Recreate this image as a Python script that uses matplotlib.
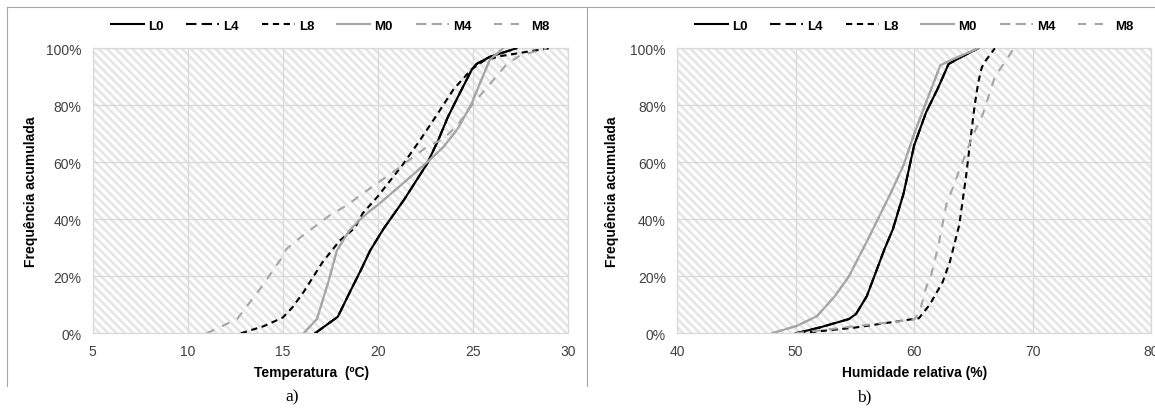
import matplotlib
matplotlib.use("Agg")
import matplotlib.pyplot as plt
from matplotlib.patches import Rectangle
from matplotlib.lines import Line2D
from matplotlib.ticker import FuncFormatter

plt.rcParams['font.family'] = ['Liberation Sans', 'DejaVu Sans']
plt.rcParams['hatch.linewidth'] = 2.0

# ---------------- data: chart a) temperature ----------------
L0_T = [16.7, 17.9, 18.5, 19.1, 19.6, 20.3, 21.4, 22.6, 23.2, 23.7, 24.3, 24.95, 25.2, 25.9, 27.3]
L0_TF = [0, 5.8, 14, 22, 29, 36.6, 47, 59.5, 68, 76, 84, 92.5, 94.5, 97, 100]
L4_T = [16.7, 17.9, 18.5, 19.1, 19.6, 20.3, 21.4, 22.6, 23.2, 23.7, 24.3, 24.95, 25.2, 25.9, 27.3]
L4_TF = [0, 5.8, 14, 22, 29, 36.6, 47, 59.5, 68, 76, 84, 92.5, 94.5, 97, 100]
L8_T = [12.8, 14.0, 15.0, 15.5, 16.1, 17.1, 18.0, 18.8, 19.2, 20.0, 21.3, 22.2, 22.75, 23.2, 24.0, 24.95, 25.6, 26.5, 27.7, 29.0]
L8_TF = [0, 2.5, 5.5, 9, 14.5, 25, 32.5, 37, 42, 48, 59, 67.5, 73, 77.5, 85.7, 92.7, 95.7, 97.3, 98.6, 100]
M0_T = [16.1, 16.8, 17.4, 17.85, 18.5, 19.0, 19.6, 20.0, 21.4, 22.6, 23.45, 24.2, 24.9, 25.4, 25.9, 26.6]
M0_TF = [0, 5, 18, 29, 36, 39.5, 43, 45, 53, 60, 65.3, 71.7, 80, 88, 96, 100]
M4_T = [16.1, 16.8, 17.4, 17.85, 18.5, 19.0, 19.6, 20.0, 21.4, 22.6, 23.45, 24.2, 24.9, 25.4, 25.9, 26.6]
M4_TF = [0, 5, 18, 29, 36, 39.5, 43, 45, 53, 60, 65.3, 71.7, 80, 88, 96, 100]
M8_T = [11.0, 12.6, 13.8, 14.9, 15.2, 16.0, 16.6, 17.5, 18.4, 19.1, 21.0, 22.6, 23.45, 24.2, 24.95, 26.1, 26.8, 27.5, 28.9]
M8_TF = [0, 5, 15.5, 26, 29.6, 34, 37, 41.5, 45, 48.5, 57.5, 65.5, 68.2, 73, 80, 89, 94.5, 97.5, 100]

# ---------------- data: chart b) relative humidity ----------------
L0_H = [50.0, 52.0, 54.5, 55.1, 56.0, 56.6, 57.5, 58.2, 59.1, 60.0, 61.0, 62.0, 62.9, 64.0, 65.4]
L0_HF = [0, 2, 5, 6.8, 13, 19.6, 29.6, 36.5, 49, 66, 77.5, 86, 94.5, 97, 100]
L4_H = [50.0, 52.0, 54.5, 55.1, 56.0, 56.6, 57.5, 58.2, 59.1, 60.0, 61.0, 62.0, 62.9, 64.0, 65.4]
L4_HF = [0, 2, 5, 6.8, 13, 19.6, 29.6, 36.5, 49, 66, 77.5, 86, 94.5, 97, 100]
L8_H = [50.3, 55.0, 60.4, 61.3, 62.4, 63.0, 63.8, 64.4, 64.8, 65.1, 65.4, 65.7, 66.0, 66.8]
L8_HF = [0, 2, 5.3, 10, 18, 25, 38, 56, 70, 80, 88, 93.3, 95.5, 100]
M0_H = [48.0, 50.1, 51.8, 53.3, 54.5, 56.1, 58.0, 59.1, 60.0, 61.0, 62.2, 63.0, 65.4]
M0_HF = [0, 2.6, 6, 13, 20, 33, 49, 59, 70, 81, 94, 95.7, 100]
M4_H = [48.0, 50.1, 51.8, 53.3, 54.5, 56.1, 58.0, 59.1, 60.0, 61.0, 62.2, 63.0, 65.4]
M4_HF = [0, 2.6, 6, 13, 20, 33, 49, 59, 70, 81, 94, 95.7, 100]
M8_H = [50.0, 55.0, 60.0, 60.5, 61.0, 61.4, 62.0, 62.7, 63.7, 64.9, 65.8, 66.8, 68.1, 68.4]
M8_HF = [0, 2.5, 4.8, 8, 16, 20, 30, 45, 56, 69, 77, 90, 98, 100]

series_names = ['L0', 'L4', 'L8', 'M0', 'M4', 'M8']
temp_x = [L0_T, L4_T, L8_T, M0_T, M4_T, M8_T]
temp_y = [L0_TF, L4_TF, L8_TF, M0_TF, M4_TF, M8_TF]
hum_x = [L0_H, L4_H, L8_H, M0_H, M4_H, M8_H]
hum_y = [L0_HF, L4_HF, L8_HF, M0_HF, M4_HF, M8_HF]

BLACK = '#000000'
GRAY = '#a5a5a5'
styles = {
    'L0': dict(color=BLACK, linestyle='-'),
    'L4': dict(color=BLACK, linestyle=(0, (5, 2.5))),
    'L8': dict(color=BLACK, linestyle=(0, (3, 2.2))),
    'M0': dict(color=GRAY, linestyle='-'),
    'M4': dict(color=GRAY, linestyle=(0, (5, 2.5))),
    'M8': dict(color=GRAY, linestyle=(0, (4, 4))),
}

W, H = 1155, 414
fig = plt.figure(figsize=(W / 100, H / 100), dpi=100)

GRID = '#d9d9d9'
TICKC = '#404040'


def setup(ax, xs, ys, xlim, xticks, xlabel, xlabel_x):
    ax.add_patch(Rectangle((0, 0), 1, 1, transform=ax.transAxes, facecolor='white',
                           edgecolor='#e6e6e6', hatch='\\\\\\\\', linewidth=0, zorder=0))
    for name, x, y in zip(series_names, xs, ys):
        ax.plot(x, y, linewidth=1.5, label=name, zorder=3, **styles[name])
    ax.set_xlim(*xlim)
    ax.set_ylim(0, 100)
    ax.set_xticks(xticks)
    ax.set_yticks([0, 20, 40, 60, 80, 100])
    ax.yaxis.set_major_formatter(FuncFormatter(lambda v, p: f"{int(v)}%"))
    ax.grid(True, color=GRID, linewidth=0.9, zorder=1)
    ax.set_axisbelow(True)
    for s in ax.spines.values():
        s.set_color(GRID)
        s.set_linewidth(0.9)
    ax.tick_params(length=0, pad=8, labelsize=10, labelcolor=TICKC)
    ax.set_xlabel(xlabel, fontsize=10, fontweight='bold', color='black')
    ax.xaxis.set_label_coords(xlabel_x, -0.136)
    ax.xaxis.label.set_verticalalignment('center')
    ax.set_ylabel('Frequência acumulada', fontsize=10, fontweight='bold', color='black')
    ax.yaxis.label.set_verticalalignment('center')
    leg = ax.legend(ncol=6, loc='center', bbox_to_anchor=(0.5, 1.079), frameon=False,
                    prop=dict(weight='bold', size=9.5), handlelength=2.5,
                    handletextpad=0.3, columnspacing=1.75, borderaxespad=0)
    for line in leg.get_lines():
        line.set_linewidth(1.5)
    return ax


axa = fig.add_axes([92.7 / W, 1 - 334.3 / H, 475 / W, 285 / H])
setup(axa, temp_x, temp_y, (5, 30), [5, 10, 15, 20, 25, 30], 'Temperatura  (ºC)', 0.46)
axa.yaxis.set_label_coords(-0.13, 0.5)

axb = fig.add_axes([677 / W, 1 - 334.3 / H, 474.4 / W, 285 / H])
setup(axb, hum_x, hum_y, (40, 80), [40, 50, 60, 70, 80], 'Humidade relativa (%)', 0.5)
axb.yaxis.set_label_coords(-0.137, 0.5)

# frame lines around the panels
border = '#a6a6a6'
fig.add_artist(Line2D([6.5 / W, 1.0], [1 - 8 / H, 1 - 8 / H], transform=fig.transFigure, color=border, linewidth=0.8))
fig.add_artist(Line2D([6.5 / W, 6.5 / W], [1 - 8 / H, 1 - 387 / H], transform=fig.transFigure, color=border, linewidth=0.8))
fig.add_artist(Line2D([587 / W, 587 / W], [1 - 8 / H, 1 - 387 / H], transform=fig.transFigure, color=border, linewidth=0.8))

fig.text(292 / W, 1 - 397 / H, 'a)', family=['Liberation Serif', 'DejaVu Serif'], fontsize=12.5, ha='center', va='center')
fig.text(864 / W, 1 - 397 / H, 'b)', family=['Liberation Serif', 'DejaVu Serif'], fontsize=12.5, ha='center', va='center')

fig.savefig('out.png', dpi=100)
